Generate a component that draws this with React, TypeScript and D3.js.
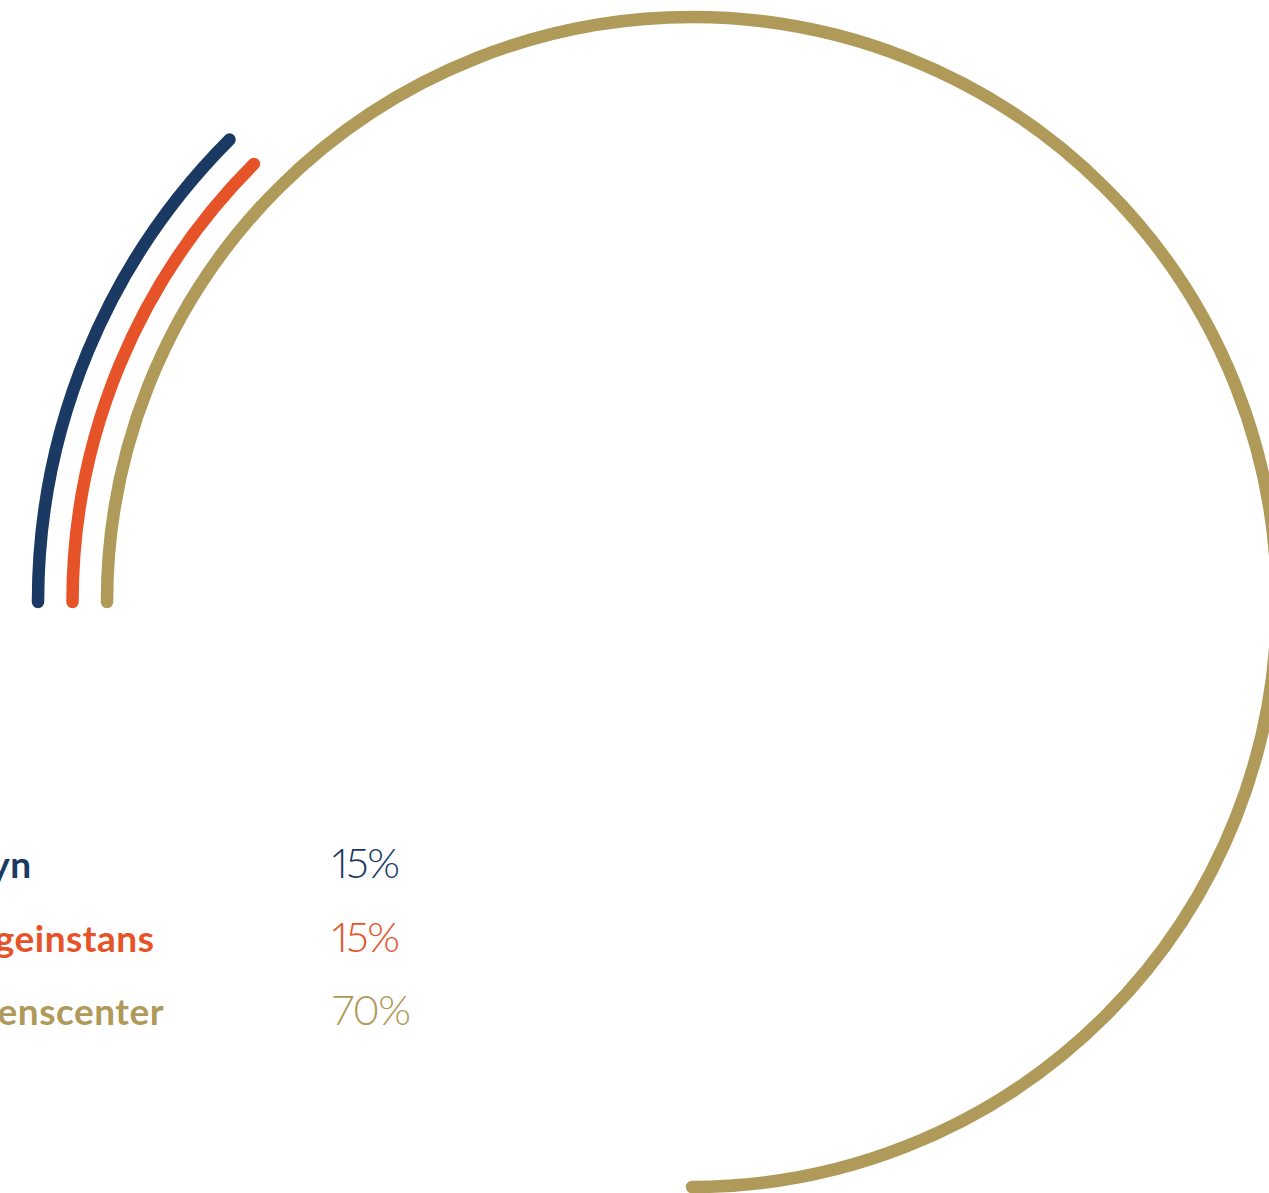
import React from "react";
import * as d3 from "d3";

const categories = ["tilsyn", "Klageinstans", "Videnscenter"];
const values = [15, 15, 70];
const valueLabels = ["15%", "15%", "70%"];
const colors = ["#1b3a63", "#e65328", "#b09a5a"];

const W = 1269;
const H = 1193;
const cx = 692;
const cy = 602;

export default function App() {
  // angle scale (sweep from 9 o'clock, clockwise)
  const angle = d3.scaleLinear().domain([0, 15, 70]).range([0, Math.PI / 4, (3 * Math.PI) / 2]);
  const radius = d3.scaleLinear().domain([0, 2]).range([654, 585]);
  const rowY = d3.scaleLinear().domain([0, 2]).range([878, 1025]);
  const labelX = -60;
  const valueX = 332;

  return (
    <svg width={W} height={H} style={{ position: "absolute", left: 0, top: 0, background: "#fff" }}>
      {values.map((v, i) => {
        const p = d3.path();
        const a0 = Math.PI;
        p.arc(cx, cy, radius(i), a0, a0 + angle(v), false);
        return (
          <path
            key={"a" + i}
            d={p.toString()}
            fill="none"
            stroke={colors[i]}
            strokeWidth={12.5}
            strokeLinecap="round"
          />
        );
      })}
      {categories.map((c, i) => (
        <g key={"l" + i}>
          <text
            x={labelX}
            y={rowY(i)}
            fill={colors[i]}
            fontFamily="Lato, 'Open Sans', sans-serif"
            fontWeight={700}
            fontSize={37}
            letterSpacing={0.5}
          >
            {c}
          </text>
          <text
            x={valueX}
            y={rowY(i)}
            fill={colors[i]}
            fontFamily="Lato, 'Open Sans', sans-serif"
            fontWeight={300}
            fontSize={42}
            letterSpacing={-1.5}
            style={{ fontVariantNumeric: "proportional-nums", fontFeatureSettings: '"pnum" 1' }}
          >
            {valueLabels[i]}
          </text>
        </g>
      ))}
    </svg>
  );
}
